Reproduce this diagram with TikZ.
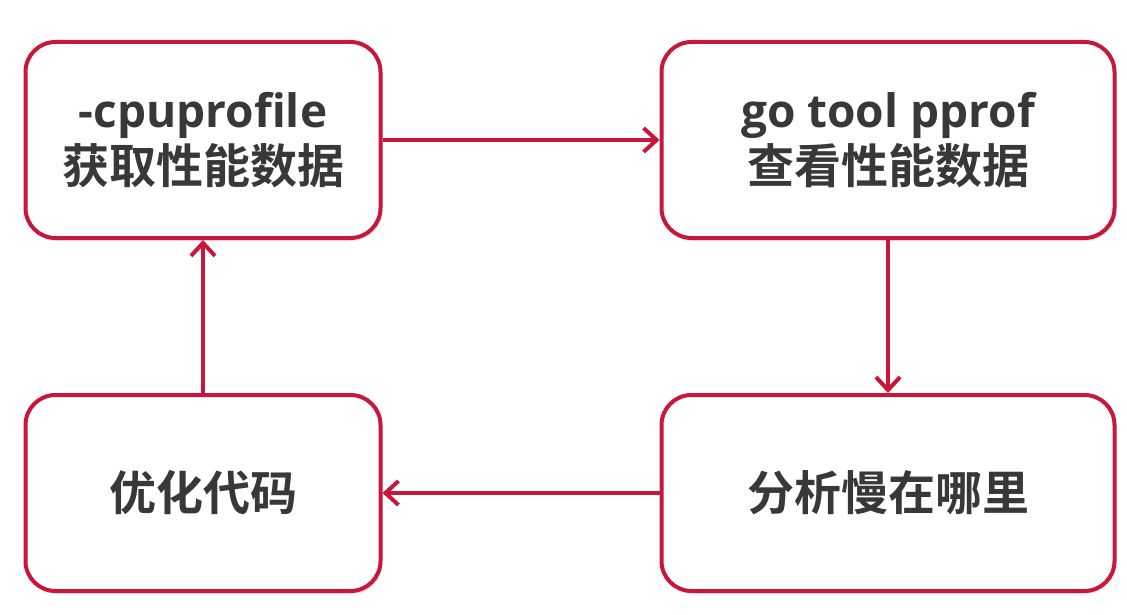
\documentclass[tikz,border=0pt]{standalone}
\usepackage{fontspec}
\setmainfont{Open Sans}
\newfontfamily\cjk{Noto Sans CJK SC}[BoldFont={* Bold}]
\usetikzlibrary{arrows.meta,shadows}
\definecolor{crim}{HTML}{C8173A}
\definecolor{txt}{HTML}{383838}
\newcommand{\lat}[1]{{\fontsize{46}{56}\selectfont\bfseries #1}}
\newcommand{\zh}[1]{{\cjk\fontsize{47}{56}\selectfont\bfseries #1}}
\tikzset{
  box/.style={draw=crim, line width=4pt, rounded corners=30pt, fill=white,
    minimum height=196pt, align=center, text=txt,
    font=\fontsize{47}{56}\selectfont,
    drop shadow={opacity=0.18, shadow xshift=2pt, shadow yshift=-3pt}},
  flow/.style={draw=crim, line width=3.5pt, -{Straight Barb[length=13pt,width=24pt,line width=4pt]}}
}
\begin{document}
\begin{tikzpicture}[x=1pt,y=-1pt]
\useasboundingbox[fill=white] (0,0) rectangle (1127,615);
\node[box, minimum width=355pt] (A) at (203,140) {\lat{-cpuprofile}\\\zh{获取性能数据}};
\node[box, minimum width=453pt] (B) at (888,140) {\lat{go tool pprof}\\\zh{查看性能数据}};
\node[box, minimum width=453pt] (C) at (888,493) {\zh{分析慢在哪里}};
\node[box, minimum width=355pt] (D) at (203,493) {\zh{优化代码}};
\draw[flow] (A.east) -- (B.west);
\draw[flow] (B.south) -- (C.north);
\draw[flow] (C.west) -- (D.east);
\draw[flow] (D.north) -- (A.south);
\end{tikzpicture}
\end{document}
